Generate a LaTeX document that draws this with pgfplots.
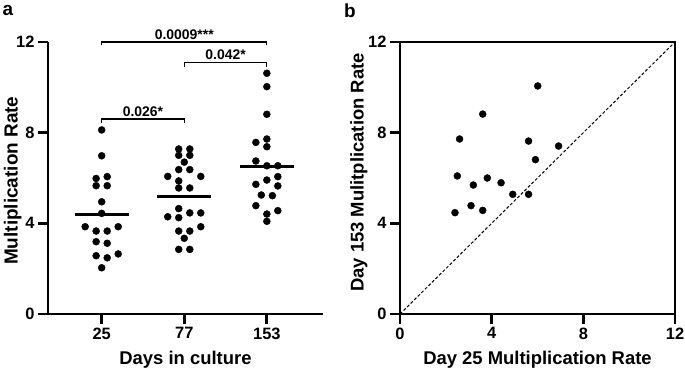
\documentclass[border=0pt]{standalone}
\usepackage{pgfplots}
\pgfplotsset{compat=1.18}
\usepackage{fontspec}
\setmainfont{Liberation Sans}
\begin{document}
\begin{tikzpicture}
\pgfplotsset{
  every axis/.append style={
    scale only axis,
    axis line style={line width=2.7bp},
    every tick/.style={line width=2.7bp, black},
    major tick length=10bp,
    tick align=outside,
    tick label style={font=\fontsize{16.5}{17}\selectfont\bfseries},
    /pgf/number format/assume math mode=true,
    label style={font=\fontsize{18.5}{20}\selectfont\bfseries},
    clip=false,
  }
}
% ---------------- panel a ----------------
\begin{axis}[at={(48bp,64bp)}, anchor=south west, width=275bp, height=272bp,
  xmin=0.35, xmax=3.68, ymin=0, ymax=12,
  axis x line*=bottom, axis y line*=left,
  xtick={1,2,3}, xticklabels={25,77,153},
  ytick={0,4,8,12},
  xlabel={Days in culture}, ylabel={Multiplication Rate},
  xlabel style={at={(axis description cs:0.5,-0.168)}, anchor=center},
  ylabel style={at={(axis description cs:-0.128,0.49)}, anchor=center, font=\fontsize{19}{19}\selectfont\bfseries},
]
\addplot[only marks, mark=*, mark size=3.5bp, black] table {
x y
1 8.12
1 6.98
0.933 5.98
1.067 6.06
0.933 5.66
1.067 5.66
1 4.95
1 4.44
0.8 3.85
0.933 3.66
1.067 3.66
1.2 3.85
0.933 3.19
1.067 3.12
0.933 2.57
1.067 2.48
1.2 2.65
1 2.04
};
\addplot[only marks, mark=*, mark size=3.5bp, black] table {
x y
1.933 7.28
2.067 7.28
1.933 7.00
2.067 7.00
2 6.70
1.933 6.37
2.067 6.37
1.8 6.07
2.2 6.07
1.933 5.87
1.933 5.56
2.067 5.56
1.933 4.65
1.8 4.29
1.933 4.25
2.067 4.46
2.2 4.46
2.2 3.85
1.933 3.66
2.067 3.66
2 3.34
1.933 2.85
2.067 2.85
};
\addplot[only marks, mark=*, mark size=3.5bp, black] table {
x y
3 10.62
3 10.03
3 8.81
2.867 7.57
3 7.72
3 7.38
2.867 6.75
3 6.54
3.133 6.54
3.133 6.06
3 5.91
2.867 5.72
3.133 5.65
2.933 5.25
3.067 5.22
2.867 4.78
3.133 4.56
3 4.41
3 4.09
};
\addplot[line width=3bp, black] coordinates {(0.673,4.40) (1.327,4.40)};
\addplot[line width=3bp, black] coordinates {(1.673,5.19) (2.327,5.19)};
\addplot[line width=3bp, black] coordinates {(2.673,6.51) (3.327,6.51)};
% significance brackets
\draw[line width=1.2bp] (axis cs:1,8.43) -- (axis cs:1,8.6) -- (axis cs:2,8.6) -- (axis cs:2,8.43);
\node[font=\fontsize{14}{14}\selectfont\bfseries, anchor=south, inner sep=2bp] at (axis cs:1.5,8.62) {0.026*};
\draw[line width=1.2bp] (axis cs:2,10.91) -- (axis cs:2,11.09) -- (axis cs:3,11.09) -- (axis cs:3,10.91);
\node[font=\fontsize{14}{14}\selectfont\bfseries, anchor=south, inner sep=2bp] at (axis cs:2.5,11.11) {0.042*};
\draw[line width=1.2bp] (axis cs:1,11.86) -- (axis cs:1,12.0) -- (axis cs:3,12.0) -- (axis cs:3,11.86);
\node[font=\fontsize{14}{14}\selectfont\bfseries, anchor=south, inner sep=2bp] at (axis cs:2,12.02) {0.0009***};
\end{axis}
% ---------------- panel b ----------------
\begin{axis}[at={(400bp,64bp)}, anchor=south west, width=275bp, height=272bp,
  xmin=0, xmax=12, ymin=0, ymax=12,
  xtick={0,4,8,12}, ytick={0,4,8,12},
  xtick pos=bottom, ytick pos=left,
  xlabel={Day 25 Multiplication Rate}, ylabel={Day 153 Mulitplication Rate},
  xlabel style={at={(axis description cs:0.5,-0.168)}, anchor=center},
  ylabel style={at={(axis description cs:-0.15,0.52)}, anchor=center, font=\fontsize{18.5}{19}\selectfont\bfseries},
]
\addplot[black, line width=1bp, dash pattern=on 3bp off 2bp] coordinates {(0,0) (12,12)};
\addplot[only marks, mark=*, mark size=3.5bp, black] table {
x y
6.01 10.06
3.61 8.82
2.60 7.72
5.61 7.63
6.92 7.41
5.91 6.81
2.50 6.09
3.81 6.00
3.20 5.69
4.41 5.79
4.92 5.28
5.61 5.28
3.10 4.78
2.40 4.47
3.61 4.57
};
\end{axis}
\node[font=\fontsize{19}{19}\selectfont\bfseries] at (8bp,367bp) {a};
\node[font=\fontsize{19}{19}\selectfont\bfseries] at (350bp,367bp) {b};
\pgfresetboundingbox
\path[use as bounding box] (0,0) rectangle (685bp,378bp);
\end{tikzpicture}
\end{document}
